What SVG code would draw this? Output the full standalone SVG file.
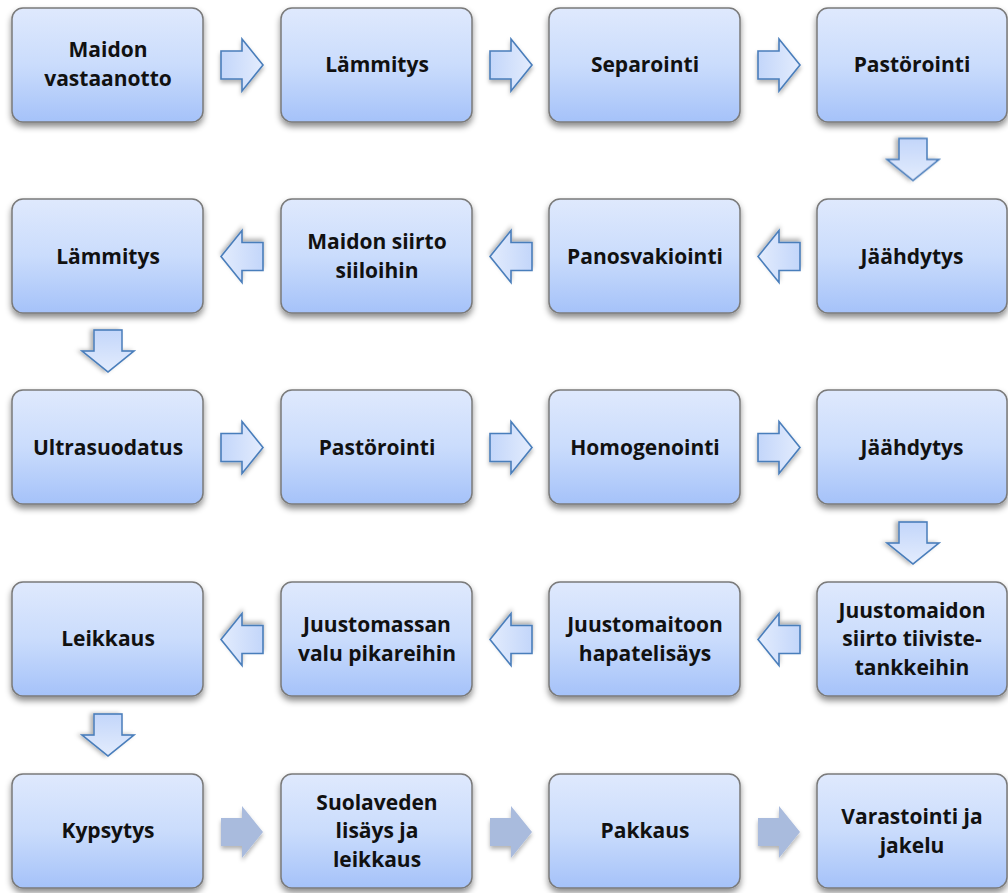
<svg xmlns="http://www.w3.org/2000/svg" xmlns:xlink="http://www.w3.org/1999/xlink" width="1008" height="893" viewBox="0 0 1008 893">
<defs>
<linearGradient id="boxg" x1="0" y1="0" x2="0" y2="1">
<stop offset="0" stop-color="#dfe9fd"/>
<stop offset="0.5" stop-color="#cadcfc"/>
<stop offset="1" stop-color="#a5c2f9"/>
</linearGradient>
<linearGradient id="arrg" x1="0" y1="0" x2="1" y2="0">
<stop offset="0" stop-color="#c3d6fa"/>
<stop offset="1" stop-color="#e3ecfd"/>
</linearGradient>
<filter id="sh" x="-20%" y="-20%" width="140%" height="150%">
<feDropShadow dx="0" dy="4" stdDeviation="3" flood-color="#000" flood-opacity="0.45"/>
</filter>
<filter id="ash" x="-30%" y="-30%" width="160%" height="170%">
<feDropShadow dx="0" dy="3" stdDeviation="2" flood-color="#000" flood-opacity="0.3"/>
</filter>
<path id="arr" d="M-21,-14 H0 V-26 L21,0 L0,26 V14 H-21 Z"/>
</defs>
<style>
.box{fill:url(#boxg);stroke:#7a7a7a;stroke-width:1.5;filter:url(#sh)}
.t{font-family:"Open Sans","Liberation Sans",sans-serif;font-weight:bold;font-size:21px;fill:#111;text-anchor:middle}
.a{fill:url(#arrg);stroke:#4a7ebb;stroke-width:1.6;stroke-linejoin:miter;filter:url(#ash)}
.f{fill:#a9bbdd;stroke:none;filter:url(#ash)}
</style>
<rect width="1008" height="893" fill="#ffffff"/>

<g id="connectors">
<use href="#arr" class="a" transform="translate(242,65)"/>
<use href="#arr" class="a" transform="translate(511,65)"/>
<use href="#arr" class="a" transform="translate(779,65)"/>
<use href="#arr" class="a" transform="translate(913,159.5) rotate(90)"/>
<use href="#arr" class="a" transform="translate(779,256.5) rotate(180)"/>
<use href="#arr" class="a" transform="translate(511,256.5) rotate(180)"/>
<use href="#arr" class="a" transform="translate(242,256.5) rotate(180)"/>
<use href="#arr" class="a" transform="translate(108,351) rotate(90)"/>
<use href="#arr" class="a" transform="translate(242,447.5)"/>
<use href="#arr" class="a" transform="translate(511,447.5)"/>
<use href="#arr" class="a" transform="translate(779,447.5)"/>
<use href="#arr" class="a" transform="translate(913,543) rotate(90)"/>
<use href="#arr" class="a" transform="translate(779,639.5) rotate(180)"/>
<use href="#arr" class="a" transform="translate(511,639.5) rotate(180)"/>
<use href="#arr" class="a" transform="translate(242,639.5) rotate(180)"/>
<use href="#arr" class="a" transform="translate(108,735) rotate(90)"/>
<use href="#arr" class="f" transform="translate(242,832)"/>
<use href="#arr" class="f" transform="translate(511,832)"/>
<use href="#arr" class="f" transform="translate(779,832)"/>
</g>

<g id="n1"><rect class="box" x="12" y="8" width="191" height="114" rx="11"/><text class="t" x="108" y="57">Maidon</text><text class="t" x="108" y="85.5">vastaanotto</text></g>
<g id="n2"><rect class="box" x="281" y="8" width="191" height="114" rx="11"/><text class="t" x="377" y="72">Lämmitys</text></g>
<g id="n3"><rect class="box" x="549" y="8" width="191" height="114" rx="11"/><text class="t" x="645" y="72">Separointi</text></g>
<g id="n4"><rect class="box" x="817" y="8" width="190" height="114" rx="11"/><text class="t" x="912" y="72">Pastörointi</text></g>

<g id="n5"><rect class="box" x="817" y="199" width="190" height="114" rx="11"/><text class="t" x="912" y="263.5">Jäähdytys</text></g>
<g id="n6"><rect class="box" x="549" y="199" width="191" height="114" rx="11"/><text class="t" x="645" y="263.5">Panosvakiointi</text></g>
<g id="n7"><rect class="box" x="281" y="199" width="191" height="114" rx="11"/><text class="t" x="377" y="249">Maidon siirto</text><text class="t" x="377" y="277.5">siiloihin</text></g>
<g id="n8"><rect class="box" x="12" y="199" width="191" height="114" rx="11"/><text class="t" x="108" y="263.5">Lämmitys</text></g>

<g id="n9"><rect class="box" x="12" y="390" width="191" height="114" rx="11"/><text class="t" x="108" y="454.5">Ultrasuodatus</text></g>
<g id="n10"><rect class="box" x="281" y="390" width="191" height="114" rx="11"/><text class="t" x="377" y="454.5">Pastörointi</text></g>
<g id="n11"><rect class="box" x="549" y="390" width="191" height="114" rx="11"/><text class="t" x="645" y="454.5">Homogenointi</text></g>
<g id="n12"><rect class="box" x="817" y="390" width="190" height="114" rx="11"/><text class="t" x="912" y="454.5">Jäähdytys</text></g>

<g id="n13"><rect class="box" x="817" y="582" width="190" height="114" rx="11"/><text class="t" x="912" y="617.5">Juustomaidon</text><text class="t" x="912" y="646">siirto tiiviste-</text><text class="t" x="912" y="674.5">tankkeihin</text></g>
<g id="n14"><rect class="box" x="549" y="582" width="191" height="114" rx="11"/><text class="t" x="645" y="632">Juustomaitoon</text><text class="t" x="645" y="660.5">hapatelisäys</text></g>
<g id="n15"><rect class="box" x="281" y="582" width="191" height="114" rx="11"/><text class="t" x="377" y="632">Juustomassan</text><text class="t" x="377" y="660.5">valu pikareihin</text></g>
<g id="n16"><rect class="box" x="12" y="582" width="191" height="114" rx="11"/><text class="t" x="108" y="646">Leikkaus</text></g>

<g id="n17"><rect class="box" x="12" y="774" width="191" height="114" rx="11"/><text class="t" x="108" y="838">Kypsytys</text></g>
<g id="n18"><rect class="box" x="281" y="774" width="191" height="114" rx="11"/><text class="t" x="377" y="809.5">Suolaveden</text><text class="t" x="377" y="838">lisäys ja</text><text class="t" x="377" y="866.5">leikkaus</text></g>
<g id="n19"><rect class="box" x="549" y="774" width="191" height="114" rx="11"/><text class="t" x="645" y="838">Pakkaus</text></g>
<g id="n20"><rect class="box" x="817" y="774" width="190" height="114" rx="11"/><text class="t" x="912" y="824">Varastointi ja</text><text class="t" x="912" y="852.5">jakelu</text></g>
</svg>
